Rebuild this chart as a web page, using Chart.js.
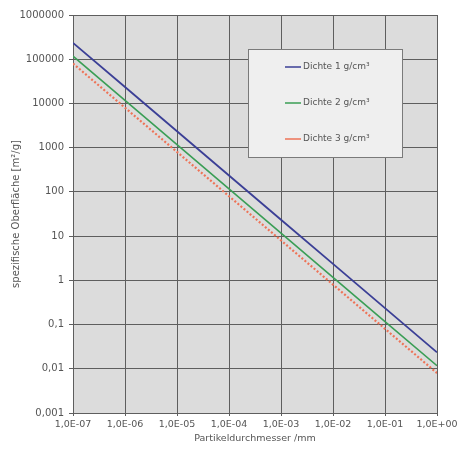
<!DOCTYPE html>
<html>
<head>
<meta charset="utf-8">
<script src="https://cdn.jsdelivr.net/npm/chart.js@4"></script>
<style>
  html,body{margin:0;padding:0;background:#fff}
  #wrap{width:473px;height:450px}
</style>
</head>
<body>
<div id="wrap"><canvas id="graph" width="473" height="450"></canvas></div>
<script>
// particle diameter in mm
const diameters = [1e-7, 1e-6, 1e-5, 1e-4, 1e-3, 1e-2, 1e-1, 1]
// specific surface m²/g
const dichte1 = [235000, 23500, 2350, 235, 23.5, 2.35, 0.235, 0.0235]
const dichte2 = [117000, 11700, 1170, 117, 11.7, 1.17, 0.117, 0.0117]
const dichte3 = [80000, 8000, 800, 80, 8.0, 0.80, 0.080, 0.0080]
const seriesLabels = ['Dichte 1 g/cm³', 'Dichte 2 g/cm³', 'Dichte 3 g/cm³']
const xTickLabels = ['1,0E-07','1,0E-06','1,0E-05','1,0E-04','1,0E-03','1,0E-02','1,0E-01','1,0E+00']
const yTickValues = [0.001, 0.01, 0.1, 1, 10, 100, 1000, 10000, 100000, 1000000]
const yTickLabels = ['0,001','0,01','0,1','1','10','100','1000','10000','100000','1000000']

const fontFam = "'DejaVu Sans', sans-serif"

function pts(vals){ return diameters.map((d,i)=>({x:d, y:vals[i]})) }

// gray plot background + boxed legend inside the plot
const plotDeco = {
    id:'plotDeco',
    beforeDraw(chart){
        const {ctx, chartArea:a} = chart
        ctx.save()
        ctx.fillStyle = '#dcdcdc'
        ctx.fillRect(a.left, a.top, a.right-a.left, a.bottom-a.top)
        ctx.restore()
    },
    afterDraw(chart){
        const ctx = chart.ctx
        ctx.save()
        ctx.fillStyle = '#efefef'
        ctx.strokeStyle = '#7a7a7a'
        ctx.lineWidth = 1
        ctx.fillRect(248, 49, 154, 108)
        ctx.strokeRect(248.5, 49.5, 154, 108)
        ctx.font = "9px " + fontFam
        ctx.textBaseline = 'middle'
        chart.data.datasets.forEach((ds,i)=>{
            const y = 67 + i*36
            ctx.strokeStyle = ds.borderColor
            ctx.lineWidth = 1.5
            ctx.beginPath(); ctx.moveTo(285, y); ctx.lineTo(301, y); ctx.stroke()
            ctx.fillStyle = '#555'
            ctx.fillText(ds.label, 303, y)
        })
        ctx.restore()
    }
}

new Chart('graph', {
    type:'line',
    data:{
        datasets:[
            {label:seriesLabels[0], data:pts(dichte1), borderColor:'#3b3f96', borderWidth:1.8, pointRadius:0, fill:false},
            {label:seriesLabels[1], data:pts(dichte2), borderColor:'#3a9e55', borderWidth:1.6, pointRadius:0, fill:false},
            {label:seriesLabels[2], data:pts(dichte3), borderColor:'#ee7357', borderWidth:2.2, borderDash:[2,2], pointRadius:0, fill:false}
        ]
    },
    options:{
        responsive:false,
        animation:false,
        layout:{padding:{left:0, top:15, right:36, bottom:0}},
        plugins:{legend:{display:false}, tooltip:{enabled:false}},
        scales:{
            x:{
                type:'logarithmic', min:1e-7, max:1,
                afterBuildTicks(s){ s.ticks = diameters.map(v=>({value:v})) },
                afterFit(s){ s.height = 37 },
                ticks:{
                    color:'#555', font:{family:fontFam, size:9.5}, padding:3,
                    maxRotation:0, autoSkip:false,
                    callback:(v)=>{ const i = diameters.findIndex(d=>Math.abs(Math.log10(d)-Math.log10(v))<1e-6); return i>=0 ? xTickLabels[i] : '' }
                },
                grid:{color:'#5e5e5e', lineWidth:1, tickLength:3},
                border:{color:'#5e5e5e'},
                title:{display:true, text:'Partikeldurchmesser /mm', color:'#555', font:{family:fontFam, size:9.5}, padding:{top:0, bottom:6}}
            },
            y:{
                type:'logarithmic', min:0.001, max:1000000,
                afterBuildTicks(s){ s.ticks = yTickValues.map(v=>({value:v})) },
                afterFit(s){ s.width = 73 },
                ticks:{
                    color:'#555', font:{family:fontFam, size:10}, padding:5, autoSkip:false,
                    callback:(v)=>{ const i = yTickValues.findIndex(t=>Math.abs(Math.log10(t)-Math.log10(v))<1e-6); return i>=0 ? yTickLabels[i] : '' }
                },
                grid:{color:'#5e5e5e', lineWidth:1, tickLength:4},
                border:{color:'#5e5e5e'},
                title:{display:true, text:'spezifische Oberfläche [m²/g]', color:'#555', font:{family:fontFam, size:10}, padding:{top:10, bottom:0}}
            }
        }
    },
    plugins:[plotDeco]
})
</script>
</body>
</html>
